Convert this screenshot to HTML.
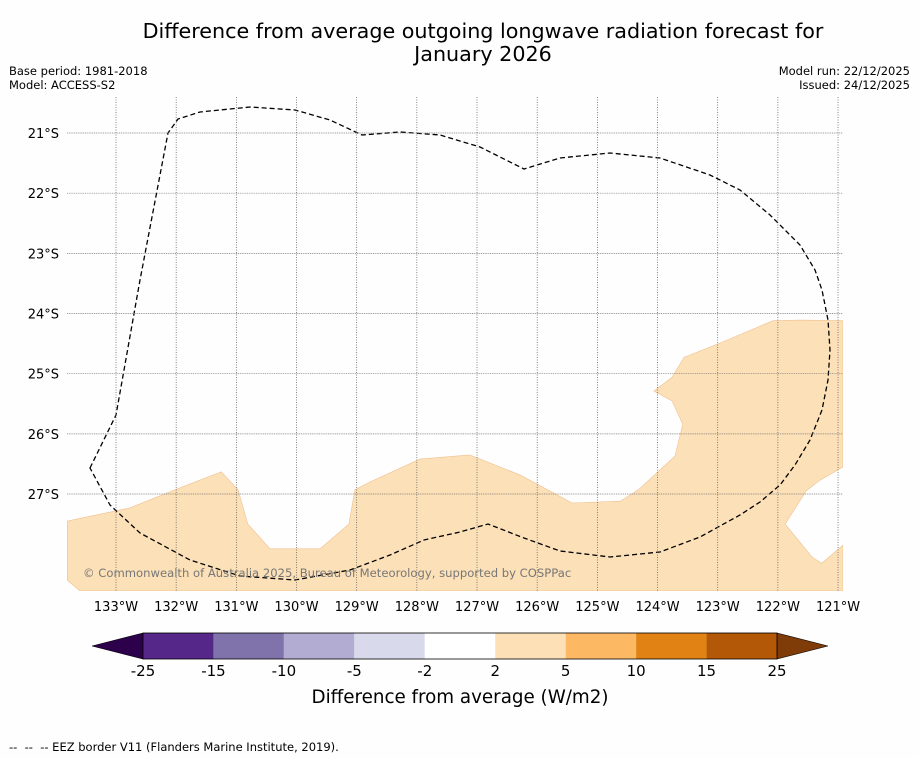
<!DOCTYPE html>
<html><head><meta charset="utf-8"><style>
body{margin:0;background:#fff;font-family:"Liberation Sans","DejaVu Sans",sans-serif;}
svg text{font-family:"DejaVu Sans","Liberation Sans",sans-serif;}
</style></head><body>
<svg id="c" width="919" height="758" viewBox="0 0 919 758" xmlns="http://www.w3.org/2000/svg">
<rect width="919" height="758" fill="#fefefe"/>
<text x="483" y="38" font-size="20.7" text-anchor="middle">Difference from average outgoing longwave radiation forecast for</text>
<text x="483" y="61" font-size="20.7" text-anchor="middle">January 2026</text>
<text x="9" y="75" font-size="11.5">Base period: 1981-2018</text>
<text x="9" y="89" font-size="11.5">Model: ACCESS-S2</text>
<text x="910" y="75" font-size="11.5" text-anchor="end">Model run: 22/12/2025</text>
<text x="910" y="89" font-size="11.5" text-anchor="end">Issued: 24/12/2025</text>
<g id="map"></g>
<g id="cb"></g>
<text x="460" y="703" font-size="18.3" text-anchor="middle">Difference from average (W/m2)</text>
<text x="9" y="751" font-size="11.5" xml:space="preserve">--  --  -- EEZ border V11 (Flanders Marine Institute, 2019).</text>
</svg>
<script>
const lonTicks=[-133,-132,-131,-130,-129,-128,-127,-126,-125,-124,-123,-122,-121];
const latTicks=[-21,-22,-23,-24,-25,-26,-27];
const anomalyLon=[-133.81,-132.77,-132.02,-131.25,-130.97,-130.81,-130.44,-129.61,-129.13,-129.03,-128.78,-127.95,-127.12,-126.29,-125.42,-124.62,-124.32,-123.71,-123.58,-123.76,-124.06,-123.76,-123.56,-122.96,-122.08,-121.63,-120.92,-120.92,-121.30,-121.53,-121.88,-121.43,-121.27,-120.92,-120.92,-133.60,-133.81];
const anomalyLat=[-27.45,-27.23,-26.93,-26.63,-26.93,-27.50,-27.91,-27.91,-27.50,-26.93,-26.80,-26.42,-26.35,-26.68,-27.15,-27.12,-26.93,-26.37,-25.84,-25.45,-25.29,-25.06,-24.73,-24.49,-24.12,-24.11,-24.12,-26.55,-26.77,-26.95,-27.50,-28.05,-28.15,-27.85,-28.61,-28.61,-28.43];
const cbBounds=[-25,-15,-10,-5,-2,2,5,10,15,25];
const cbColors=["#542788","#8073ac","#b2abd2","#d8daeb","#ffffff","#fee0b6","#fdb863","#e08214","#b35806"];
const cbLow="#2d004b", cbHigh="#7f3b08";
const NS="http://www.w3.org/2000/svg";
const X0=67,X1=843,Y0=97,Y1=591;
const sx=lon=>116+(lon+133)*60.17;
const sy=lat=>133+(-21-lat)*60.17;
function mk(t,a,p){const e=document.createElementNS(NS,t);for(const k in a)e.setAttribute(k,a[k]);p.appendChild(e);return e;}
const map=document.getElementById('map');
const defs=mk('defs',{},map);const cp=mk('clipPath',{id:'cl'},defs);mk('rect',{x:X0,y:Y0,width:X1-X0,height:Y1-Y0},cp);
const g=mk('g',{'clip-path':'url(#cl)'},map);
let d=anomalyLon.map((v,i)=>(i?'L':'M')+sx(v).toFixed(1)+','+sy(anomalyLat[i]).toFixed(1)).join('')+'Z';
const poly=mk('path',{d:d,fill:'#fce0b7',stroke:'#f0c090','stroke-width':0.6},g);


lonTicks.forEach(v=>{
 const l=mk('line',{x1:sx(v),x2:sx(v),y1:Y0,y2:Y1,stroke:'#555','stroke-width':0.7,'stroke-dasharray':'1,1.5'},map);
 
 
 const t=mk('text',{x:sx(v),y:611,'font-size':13,'text-anchor':'middle'},map);t.textContent=Math.abs(v)+'°W';
 
 
});
latTicks.forEach(v=>{
 const l=mk('line',{x1:X0,x2:X1,y1:sy(v),y2:sy(v),stroke:'#777','stroke-width':0.7,'stroke-dasharray':'1,0.8'},map);
 
 
 const t=mk('text',{x:59,y:sy(v)+5,'font-size':13,'text-anchor':'end'},map);t.textContent=Math.abs(v)+'°S';
 
 
});
const eez=mk('path',{d:'M90,468L116,415L140,280L168,133L178,119L200,112L250,107L295,110L330,120L362,135L400,132L440,135L480,147L524,169L560,158L610,153L660,158L710,175L740,190L770,215L800,245L815,270L822,290L828,320L830,350L828,380L822,410L810,440L795,465L780,485L760,502L740,515L700,537L660,552L610,557L560,551L524,538L488,524L460,532L424,540L390,555L350,570L295,580L240,576L190,560L140,533L110,505Z',fill:'none',stroke:'#000','stroke-width':1.3,'stroke-dasharray':'5,3'},g);


const cr=mk('text',{x:83,y:577,'font-size':11.6,fill:'#777'},map);cr.textContent='© Commonwealth of Australia 2025, Bureau of Meteorology, supported by COSPPac';


const cb=document.getElementById('cb');
const CX0=143,CW=634/(cbBounds.length-1),CY=633,CH=26;
mk('path',{d:`M${CX0},${CY}L92,${CY+CH/2}L${CX0},${CY+CH}Z`,fill:cbLow,stroke:'#000','stroke-width':0.6},cb);
mk('path',{d:`M${CX0+634},${CY}L828,${CY+CH/2}L${CX0+634},${CY+CH}Z`,fill:cbHigh,stroke:'#000','stroke-width':0.6},cb);
cbColors.forEach((c,i)=>{
 const r=mk('rect',{x:CX0+i*CW,y:CY,width:CW,height:CH,fill:c},cb);
 
 
});
mk('rect',{x:CX0,y:CY,width:634,height:CH,fill:'none',stroke:'#000','stroke-width':0.8},cb);
cbBounds.forEach((v,i)=>{
 const t=mk('text',{x:CX0+i*CW,y:676,'font-size':15,'text-anchor':'middle'},cb);t.textContent=v;
 
 
});
</script>
</body></html>
